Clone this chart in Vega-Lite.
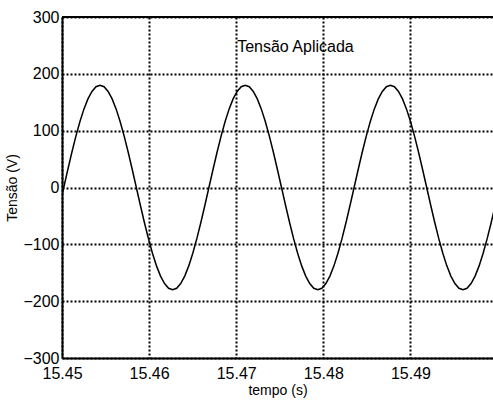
{
  "$schema": "https://vega.github.io/schema/vega-lite/v6.json",
  "width": 431,
  "height": 341,
  "autosize": {"type": "none"},
  "padding": {"left": 62, "top": 17, "right": 0, "bottom": 42},
  "background": "white",
  "config": {
    "font": "Liberation Sans",
    "view": {"stroke": null},
    "axis": {
      "labelFont": "Liberation Sans",
      "labelFontSize": 16,
      "labelColor": "black",
      "labelFlush": false,
      "titleFont": "Liberation Sans",
      "titleFontSize": 14,
      "titleFontWeight": "normal",
      "titleColor": "black",
      "domainColor": "black",
      "domainWidth": 2,
      "ticks": false,
      "grid": true,
      "gridColor": "black",
      "gridOpacity": 1,
      "gridWidth": 2,
      "gridDash": [2, 2]
    }
  },
  "data": {
    "values": [
      {"t": 15.449737, "v": -31.3},
      {"t": 15.4502, "v": 0},
      {"t": 15.450663, "v": 31.3},
      {"t": 15.451126, "v": 61.6},
      {"t": 15.451589, "v": 90},
      {"t": 15.452052, "v": 115.7},
      {"t": 15.452515, "v": 137.9},
      {"t": 15.452978, "v": 155.9},
      {"t": 15.453441, "v": 169.1},
      {"t": 15.453904, "v": 177.3},
      {"t": 15.454367, "v": 180},
      {"t": 15.45483, "v": 177.3},
      {"t": 15.455293, "v": 169.1},
      {"t": 15.455756, "v": 155.9},
      {"t": 15.456219, "v": 137.9},
      {"t": 15.456681, "v": 115.7},
      {"t": 15.457144, "v": 90},
      {"t": 15.457607, "v": 61.6},
      {"t": 15.45807, "v": 31.3},
      {"t": 15.458533, "v": 0},
      {"t": 15.458996, "v": -31.3},
      {"t": 15.459459, "v": -61.6},
      {"t": 15.459922, "v": -90},
      {"t": 15.460385, "v": -115.7},
      {"t": 15.460848, "v": -137.9},
      {"t": 15.461311, "v": -155.9},
      {"t": 15.461774, "v": -169.1},
      {"t": 15.462237, "v": -177.3},
      {"t": 15.4627, "v": -180},
      {"t": 15.463163, "v": -177.3},
      {"t": 15.463626, "v": -169.1},
      {"t": 15.464089, "v": -155.9},
      {"t": 15.464552, "v": -137.9},
      {"t": 15.465015, "v": -115.7},
      {"t": 15.465478, "v": -90},
      {"t": 15.465941, "v": -61.6},
      {"t": 15.466404, "v": -31.3},
      {"t": 15.466867, "v": 0},
      {"t": 15.46733, "v": 31.3},
      {"t": 15.467793, "v": 61.6},
      {"t": 15.468256, "v": 90},
      {"t": 15.468719, "v": 115.7},
      {"t": 15.469181, "v": 137.9},
      {"t": 15.469644, "v": 155.9},
      {"t": 15.470107, "v": 169.1},
      {"t": 15.47057, "v": 177.3},
      {"t": 15.471033, "v": 180},
      {"t": 15.471496, "v": 177.3},
      {"t": 15.471959, "v": 169.1},
      {"t": 15.472422, "v": 155.9},
      {"t": 15.472885, "v": 137.9},
      {"t": 15.473348, "v": 115.7},
      {"t": 15.473811, "v": 90},
      {"t": 15.474274, "v": 61.6},
      {"t": 15.474737, "v": 31.3},
      {"t": 15.4752, "v": 0},
      {"t": 15.475663, "v": -31.3},
      {"t": 15.476126, "v": -61.6},
      {"t": 15.476589, "v": -90},
      {"t": 15.477052, "v": -115.7},
      {"t": 15.477515, "v": -137.9},
      {"t": 15.477978, "v": -155.9},
      {"t": 15.478441, "v": -169.1},
      {"t": 15.478904, "v": -177.3},
      {"t": 15.479367, "v": -180},
      {"t": 15.47983, "v": -177.3},
      {"t": 15.480293, "v": -169.1},
      {"t": 15.480756, "v": -155.9},
      {"t": 15.481219, "v": -137.9},
      {"t": 15.481681, "v": -115.7},
      {"t": 15.482144, "v": -90},
      {"t": 15.482607, "v": -61.6},
      {"t": 15.48307, "v": -31.3},
      {"t": 15.483533, "v": 0},
      {"t": 15.483996, "v": 31.3},
      {"t": 15.484459, "v": 61.6},
      {"t": 15.484922, "v": 90},
      {"t": 15.485385, "v": 115.7},
      {"t": 15.485848, "v": 137.9},
      {"t": 15.486311, "v": 155.9},
      {"t": 15.486774, "v": 169.1},
      {"t": 15.487237, "v": 177.3},
      {"t": 15.4877, "v": 180},
      {"t": 15.488163, "v": 177.3},
      {"t": 15.488626, "v": 169.1},
      {"t": 15.489089, "v": 155.9},
      {"t": 15.489552, "v": 137.9},
      {"t": 15.490015, "v": 115.7},
      {"t": 15.490478, "v": 90},
      {"t": 15.490941, "v": 61.6},
      {"t": 15.491404, "v": 31.3},
      {"t": 15.491867, "v": 0},
      {"t": 15.49233, "v": -31.3},
      {"t": 15.492793, "v": -61.6},
      {"t": 15.493256, "v": -90},
      {"t": 15.493719, "v": -115.7},
      {"t": 15.494181, "v": -137.9},
      {"t": 15.494644, "v": -155.9},
      {"t": 15.495107, "v": -169.1},
      {"t": 15.49557, "v": -177.3},
      {"t": 15.496033, "v": -180},
      {"t": 15.496496, "v": -177.3},
      {"t": 15.496959, "v": -169.1},
      {"t": 15.497422, "v": -155.9},
      {"t": 15.497885, "v": -137.9},
      {"t": 15.498348, "v": -115.7},
      {"t": 15.498811, "v": -90},
      {"t": 15.499274, "v": -61.6},
      {"t": 15.499737, "v": -31.3}
    ]
  },
  "layer": [
    {
      "mark": {"type": "line", "color": "black", "strokeWidth": 1.5, "clip": true},
      "encoding": {
        "x": {
          "field": "t",
          "type": "quantitative",
          "title": "tempo (s)",
          "scale": {"domain": [15.45, 15.49948], "nice": false, "zero": false},
          "axis": {"values": [15.45, 15.46, 15.47, 15.48, 15.49], "format": ".2f", "labelPadding": 7, "titlePadding": 2}
        },
        "y": {
          "field": "v",
          "type": "quantitative",
          "title": "Tensão (V)",
          "scale": {"domain": [-300, 300], "nice": false},
          "axis": {"values": [-300, -200, -100, 0, 100, 200, 300], "labelPadding": 3, "titlePadding": 3}
        }
      }
    },
    {
      "data": {"values": [{}]},
      "mark": {"type": "rule", "color": "black", "strokeWidth": 2},
      "encoding": {
        "y": {"datum": 300},
        "x": {"datum": 15.45},
        "x2": {"datum": 15.49948}
      }
    },
    {
      "data": {"values": [{}]},
      "mark": {"type": "text", "font": "Liberation Sans", "fontSize": 16, "color": "black", "align": "center", "baseline": "middle"},
      "encoding": {
        "x": {"datum": 15.4768},
        "y": {"datum": 247},
        "text": {"value": "Tensão Aplicada"}
      }
    }
  ]
}
